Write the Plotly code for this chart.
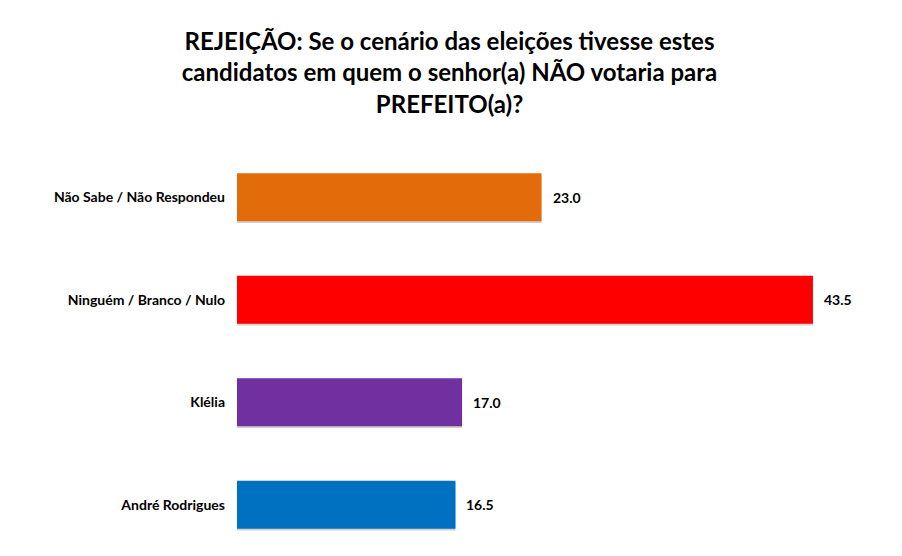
import plotly.graph_objects as go

# --- data ---
categories = ["Não Sabe / Não Respondeu", "Ninguém / Branco / Nulo", "Klélia", "André Rodrigues"]
values = [23.0, 43.5, 17.0, 16.5]
bar_colors = ["#E36C0A", "#FF0000", "#7030A0", "#0070C0"]

title_text = ("REJEIÇÃO: Se o cenário das eleições tivesse estes<br>"
              "candidatos em quem o senhor(a) NÃO votaria para<br>"
              "PREFEITO(a)?")

FONT = "Lato"

fig = go.Figure()

# faint drop shadow under each bar
fig.add_trace(go.Bar(
    y=categories, x=values, orientation="h",
    marker=dict(color="rgba(0,0,0,0.18)", line=dict(width=0)),
    width=0.47, offset=-0.22, hoverinfo="skip", showlegend=False,
))
fig.add_trace(go.Bar(
    y=categories, x=values, orientation="h",
    marker=dict(color=bar_colors, line=dict(width=0)),
    width=0.47, offset=-0.235, hoverinfo="skip", showlegend=False,
))

# value labels just past each bar end
for cat, val in zip(categories, values):
    fig.add_annotation(
        x=val, y=cat, text=f"<b>{val:.1f}</b>", showarrow=False,
        xanchor="left", yanchor="middle", xshift=9,
        font=dict(family=FONT, size=14, color="#000000"),
    )

# the page body adds an 8px offset, so margins are trimmed to compensate
fig.update_layout(
    width=902, height=556,
    margin=dict(l=229, r=11, t=138, b=8),
    paper_bgcolor="white", plot_bgcolor="white",
    barmode="overlay",
    title=dict(text=f"<b>{title_text}</b>", x=0.4895, xanchor="center",
               y=0.924, yanchor="top", yref="container",
               font=dict(family=FONT, size=24, color="#000000")),
    xaxis=dict(range=[0, 50], visible=False, fixedrange=True),
    yaxis=dict(range=[3.5, -0.5], showgrid=False, showline=False, zeroline=False,
               ticks="", ticklabelstandoff=11,
               tickfont=dict(family=FONT, size=14, color="#000000"),
               tickvals=categories, ticktext=[f"<b>{c}</b>" for c in categories]),
    showlegend=False,
)

fig.write_html("out.html")
